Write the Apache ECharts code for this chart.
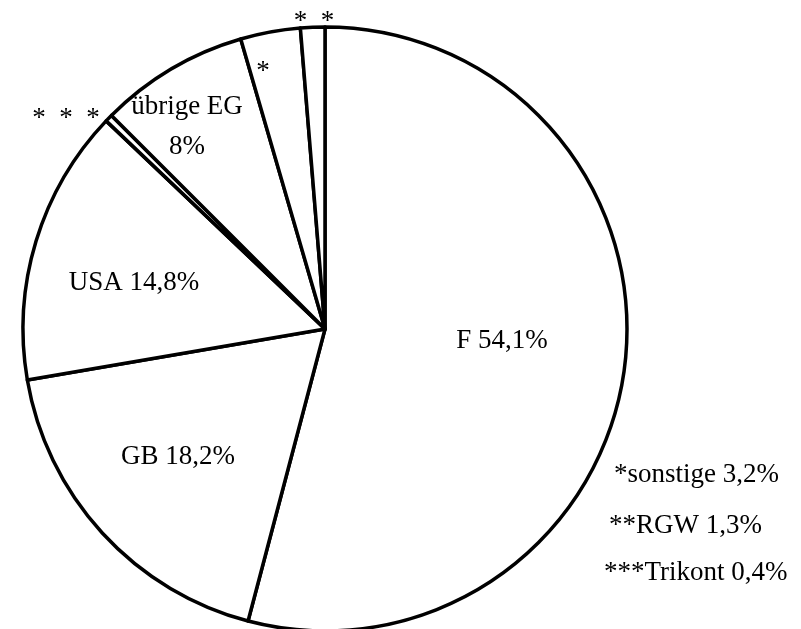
<!DOCTYPE html>
<html>
<head>
<meta charset="utf-8">
<script src="https://cdn.jsdelivr.net/npm/echarts@6/dist/echarts.min.js"></script>
<style>
html,body{margin:0;padding:0;background:#fff;}
#chart{width:801px;height:629px;}
</style>
</head>
<body>
<div id="chart"></div>
<script>
// Data (clockwise from 12 o'clock)
var categories = ['F', 'GB', 'USA', 'Trikont', 'übrige EG', 'sonstige', 'RGW'];
var values = [54.1, 18.2, 14.8, 0.4, 8, 3.2, 1.3];
var marks = ['', '', '', '***', '', '*', '**'];

// label placement (text only)
var labelPos = [[502, 341], [178, 457], [134, 283], [66, 119], [187, 127], [263, 72], [314, 22]];

function fmt(v) { return String(v).replace('.', ',') + '%'; }

var legendItems = [5, 6, 3];
var legendPos = [[614, 477], [609, 528], [604, 575]];

var FONT = 'Liberation Serif';

var chart = echarts.init(document.getElementById('chart'), null, {renderer: 'canvas'});

var data = categories.map(function (c, i) {
  return {name: c, value: values[i]};
});

var graphics = legendItems.map(function (idx, k) {
  return {
    type: 'text',
    left: legendPos[k][0],
    top: legendPos[k][1] - 16,
    style: {
      text: marks[idx] + categories[idx] + ' ' + fmt(values[idx]),
      font: '27px "' + FONT + '"',
      fill: '#000'
    }
  };
});

chart.setOption({
  backgroundColor: '#fff',
  animation: false,
  graphic: graphics,
  series: [{
    type: 'pie',
    center: [325, 329],
    radius: [0, 302],
    startAngle: 90,
    clockwise: true,
    avoidLabelOverlap: false,
    silent: true,
    data: data,
    itemStyle: {color: '#fff', borderColor: '#000', borderWidth: 3.5},
    emphasis: {disabled: true},
    labelLine: {show: false},
    label: {
      show: true,
      position: 'inside',
      color: '#000',
      fontFamily: FONT,
      fontSize: 27,
      lineHeight: 40,
      formatter: function (p) {
        var i = p.dataIndex;
        if (marks[i]) return marks[i].split('').join('  ');
        if (categories[i] === 'übrige EG') return categories[i] + '\n' + fmt(values[i]);
        return categories[i] + ' ' + fmt(values[i]);
      }
    },
    labelLayout: function (p) {
      var pos = labelPos[p.dataIndex];
      return {x: pos[0], y: pos[1], align: 'center', verticalAlign: 'middle'};
    }
  }]
});
</script>
</body>
</html>
